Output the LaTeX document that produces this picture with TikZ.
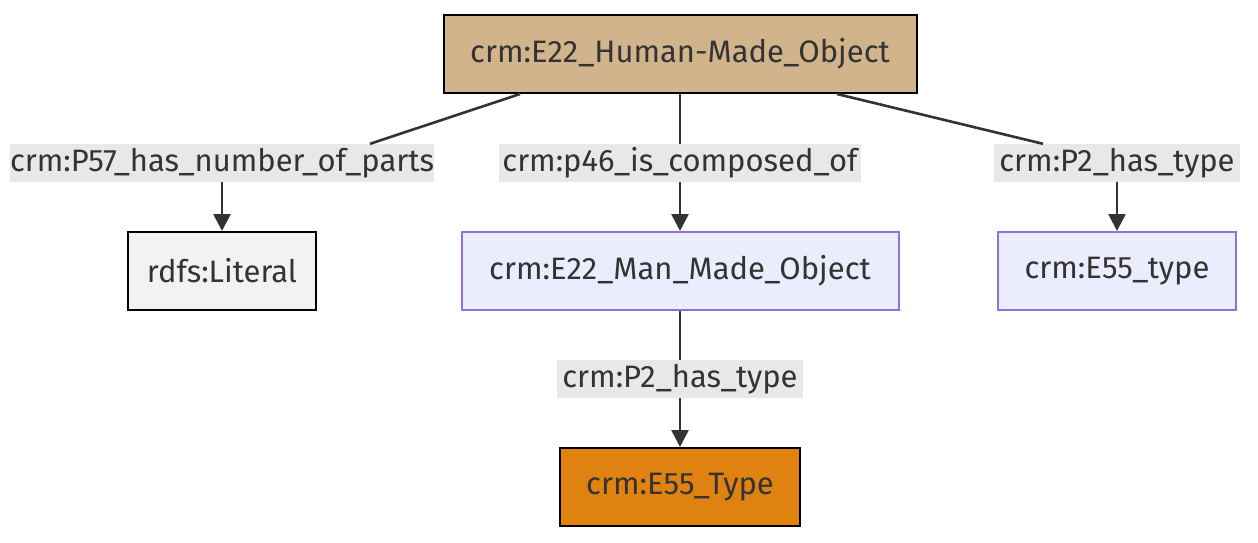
\documentclass[tikz,border=0pt]{standalone}
\usepackage{fontspec}
\setmainfont{Fira Sans}
\usepackage{tikz}
\usetikzlibrary{arrows.meta}

\definecolor{txt}{HTML}{333333}
\definecolor{tan}{HTML}{D2B48C}
\definecolor{orng}{HTML}{E0820F}
\definecolor{litgray}{HTML}{F2F2F2}
\definecolor{mmfill}{HTML}{ECECFF}
\definecolor{mmline}{HTML}{9370DB}
\definecolor{lblbg}{HTML}{E8E8E8}

\begin{document}
\begin{tikzpicture}[x=1pt, y=-1pt,
	every node/.style={font=\fontsize{31}{37}\selectfont, text=txt},
	box/.style={draw, line width=2pt, minimum height=78pt, inner sep=0pt},
	lbl/.style={fill=lblbg, inner sep=0pt, minimum height=38pt},
	edge/.style={draw=txt, line width=2.6pt},
	>={Triangle[length=17pt, width=17pt]}]
	\useasboundingbox (0,0) rectangle (1258,542);
	% nodes
	\node[box, fill=tan, draw=black, minimum width=473pt] (hmo) at (680,54) {crm:E22\_Human-Made\_Object};
	\node[box, fill=litgray, draw=black, minimum width=188pt] (lit) at (222,271) {rdfs:Literal};
	\node[box, fill=mmfill, draw=mmline, minimum width=437pt] (mmo) at (680,271) {crm:E22\_Man\_Made\_Object};
	\node[box, fill=mmfill, draw=mmline, minimum width=238pt] (typ) at (1117,271) {crm:E55\_type};
	\node[box, fill=orng, draw=black, minimum width=240pt] (Typ) at (680,487) {crm:E55\_Type};
	% labels
	\node[lbl, minimum width=413pt] (l1) at (222,163) {crm:P57\_has\_number\_of\_parts};
	\node[lbl, minimum width=362pt] (l2) at (680,163) {crm:p46\_is\_composed\_of};
	\node[lbl, minimum width=246pt] (l3) at (1117,163) {crm:P2\_has\_type};
	\node[lbl, minimum width=246pt] (l4) at (680,379) {crm:P2\_has\_type};
	% edges
	\draw[edge] ([xshift=-160pt]hmo.south) -- ([xshift=148pt]l1.north);
	\draw[edge, ->] (l1) -- (lit);
	\draw[edge] (hmo) -- (l2);
	\draw[edge, ->] (l2) -- (mmo);
	\draw[edge] ([xshift=157pt]hmo.south) -- ([xshift=-74pt]l3.north);
	\draw[edge, ->] (l3) -- (typ);
	\draw[edge] (mmo) -- (l4);
	\draw[edge, ->] (l4) -- (Typ);
\end{tikzpicture}
\end{document}
